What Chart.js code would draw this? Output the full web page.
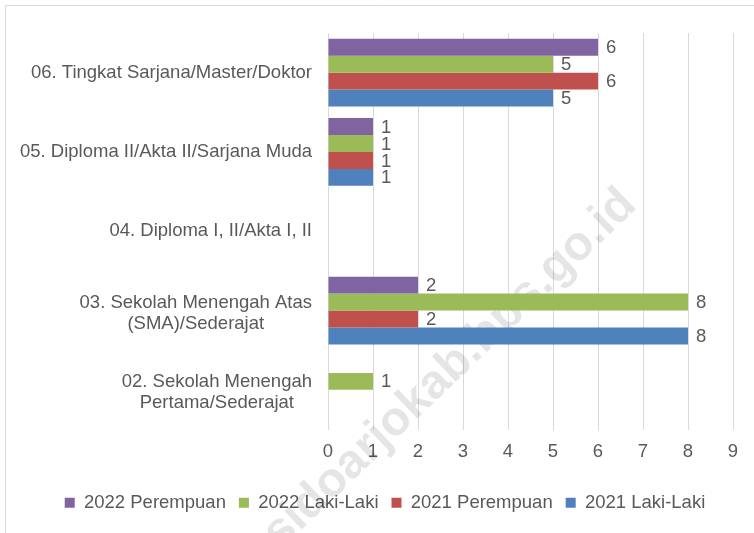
<!DOCTYPE html>
<html>
<head>
<meta charset="utf-8">
<script src="https://cdn.jsdelivr.net/npm/chart.js@4.4.0/dist/chart.umd.min.js"></script>
<style>
    body { margin: 0; background: #fff; }
    #wrap { position: relative; width: 754px; height: 533px; }
</style>
</head>
<body>
<div id="wrap"><canvas id="chart" width="754" height="533"></canvas></div>
<script>
// categories, top to bottom
const categories = [
    ["06. Tingkat Sarjana/Master/Doktor"],
    ["05. Diploma II/Akta II/Sarjana Muda"],
    ["04. Diploma I, II/Akta I, II"],
    ["03. Sekolah Menengah Atas", "(SMA)/Sederajat"],
    ["02. Sekolah Menengah", "Pertama/Sederajat"]
];
const perempuan2022 = [6, 1, null, 2, null];
const lakiLaki2022 = [5, 1, null, 8, 1];
const perempuan2021 = [6, 1, null, 2, null];
const lakiLaki2021 = [5, 1, null, 8, null];
const xTicks = [0, 1, 2, 3, 4, 5, 6, 7, 8, 9];
const watermark = "sidoarjokab.bps.go.id";

const FONT = "'Liberation Sans', Arial, sans-serif";
const GREY = "#595959";

let frameAndWatermark = {
    id: "frameAndWatermark",
    beforeDraw: (chart) => {
        const ctx = chart.ctx;
        ctx.save();
        ctx.strokeStyle = "#d9d9d9";
        ctx.lineWidth = 1;
        ctx.beginPath();
        ctx.moveTo(5.5, 533);
        ctx.lineTo(5.5, 5.5);
        ctx.lineTo(754, 5.5);
        ctx.stroke();
        ctx.restore();
    },
    beforeDatasetsDraw: (chart) => {
        const ctx = chart.ctx;
        ctx.save();
        ctx.translate(450, 369);
        ctx.rotate(-43.8 * Math.PI / 180);
        ctx.font = "bold 48px " + FONT;
        ctx.fillStyle = "rgba(0,0,0,0.1)";
        ctx.textAlign = "center";
        ctx.textBaseline = "middle";
        ctx.fillText(watermark, 0, 0);
        ctx.restore();
    }
};

let textLabels = {
    id: "textLabels",
    afterDatasetsDraw: (chart) => {
        const ctx = chart.ctx;
        const yScale = chart.scales.y;
        ctx.save();
        ctx.font = "18.5px " + FONT;
        ctx.fillStyle = GREY;
        ctx.textBaseline = "middle";

        // category labels, right edge at 312, lines centred in their block
        categories.forEach((lines, i) => {
            const cy = yScale.getPixelForValue(i) + (lines.length > 1 ? 3 : 0);
            const widths = lines.map(l => ctx.measureText(l).width);
            const maxW = Math.max(...widths);
            const lh = 21;
            ctx.textAlign = "center";
            lines.forEach((l, j) => {
                const y = cy + (j - (lines.length - 1) / 2) * lh;
                ctx.fillText(l, 312 - maxW / 2, y);
            });
        });

        // value labels
        ctx.textAlign = "left";
        chart.data.datasets.forEach((ds, di) => {
            const meta = chart.getDatasetMeta(di);
            meta.data.forEach((bar, i) => {
                const v = ds.data[i];
                if (v === null || v === undefined) return;
                ctx.fillText(String(v), bar.x + 8, bar.y + 1);
            });
        });
        ctx.restore();
    }
};

const config = {
    type: "bar",
    data: {
        labels: categories,
        datasets: [
            { label: "2022 Perempuan", data: perempuan2022, backgroundColor: "#8064A2" },
            { label: "2022 Laki-Laki", data: lakiLaki2022, backgroundColor: "#9BBB59" },
            { label: "2021 Perempuan", data: perempuan2021, backgroundColor: "#C0504D" },
            { label: "2021 Laki-Laki", data: lakiLaki2021, backgroundColor: "#4F81BD" }
        ]
    },
    options: {
        indexAxis: "y",
        responsive: false,
        animation: false,
        barPercentage: 1,
        categoryPercentage: 0.855,
        layout: { padding: { left: 37, right: 21, top: 33, bottom: 11 } },
        scales: {
            x: {
                min: 0,
                max: 9,
                afterBuildTicks: (scale) => {
                    scale.ticks = xTicks.map(v => ({ value: v }));
                },
                afterFit: (scale) => { scale.height = 51; },
                grid: { color: "#d9d9d9", drawTicks: false },
                border: { display: false },
                ticks: {
                    padding: 11,
                    color: GREY,
                    font: { family: FONT, size: 18.5 }
                }
            },
            y: {
                afterFit: (scale) => { scale.width = 291; },
                grid: { display: false },
                border: { display: false },
                ticks: { display: false }
            }
        },
        plugins: {
            legend: {
                position: "bottom",
                labels: {
                    boxWidth: 10,
                    boxHeight: 10,
                    padding: 13,
                    color: GREY,
                    font: { family: FONT, size: 18.5 }
                }
            },
            tooltip: { enabled: false }
        }
    },
    plugins: [frameAndWatermark, textLabels]
};

new Chart(document.getElementById("chart"), config);
</script>
</body>
</html>
